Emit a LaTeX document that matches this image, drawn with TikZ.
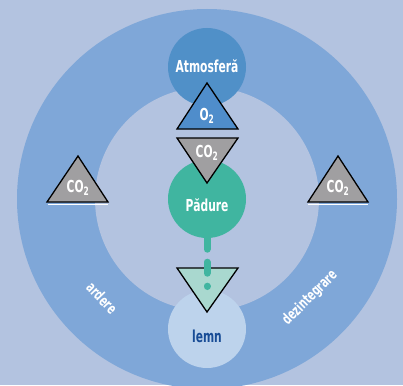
\documentclass[tikz,border=0pt]{standalone}
\usepackage{fontspec}
\newfontfamily\cyclefont[FakeStretch=0.65]{DejaVu Sans}
\definecolor{bgblue}{HTML}{B3C3E0}
\definecolor{ringblue}{HTML}{7FA7D8}
\definecolor{airblue}{HTML}{5090C8}
\definecolor{oxyblue}{HTML}{4F8DCB}
\definecolor{forest}{HTML}{40B5A0}
\definecolor{woodblue}{HTML}{BDD3EC}
\definecolor{woodtext}{HTML}{184C96}
\definecolor{cotwo}{HTML}{A09FA1}
\definecolor{mint}{HTML}{A9D8CF}
\tikzset{
  lbl/.style={text=white, inner sep=0pt, font=\cyclefont\bfseries\fontsize{16.5}{16.5}\selectfont},
  ringlbl/.style={text=white, inner sep=0pt, font=\cyclefont\bfseries\fontsize{15}{15}\selectfont},
  tri/.style={draw=black, line width=1.3pt},
  blob/.style={circle, minimum size=78pt, inner sep=0pt},
}

\begin{document}
\begin{tikzpicture}[x=1pt,y=-1pt]
\useasboundingbox (0,0) rectangle (403,385);
\clip (0,0) rectangle (403,385);
% background and carbon ring
\fill[bgblue] (0,0) rectangle (403,385);
\fill[ringblue] (207,199) circle (190);
\fill[bgblue] (207,199) circle (112);

% stores
\node[blob, fill=airblue] (atmo) at (207,67) {};
\node[blob, fill=forest] (forest) at (207,199) {};
\node[blob, fill=woodblue] (wood) at (207,329) {};
\node[lbl] (atmolbl) at (207,66) {Atmosferă};
\node[lbl] (forestlbl) at (207,205) {Pădure};
\node[lbl, text=woodtext] (woodlbl) at (207,336) {lemn};

% gas triangles
\draw[tri, fill=oxyblue] (207,83) -- (238,129) -- (177,129) -- cycle;
\draw[tri, fill=cotwo] (177,138) -- (238,138) -- (207,183) -- cycle;
\draw[white, line width=1pt] (48,204.5) -- (108,204.5);
\draw[white, line width=1pt] (308,204.5) -- (368,204.5);
\draw[tri, fill=cotwo] (78,156) -- (108,202) -- (47,202) -- cycle;
\draw[tri, fill=cotwo] (338,156) -- (368,202) -- (308,202) -- cycle;
\draw[tri, fill=mint] (177,268) -- (238,268) -- (207,312) -- cycle;

\node[lbl] (otwo) at (207,116) {O\textsubscript{2}};
\node[lbl] (cotop) at (207,153) {CO\textsubscript{2}};
\node[lbl] (coleft) at (78,188) {CO\textsubscript{2}};
\node[lbl] (coright) at (338,188) {CO\textsubscript{2}};

% processes on the ring
\node[ringlbl, rotate=-46] (burn) at (102,298) {ardere};
\node[ringlbl, rotate=45] (decay) at (310,298) {dezintegrare};

% forest to wood
\coordinate (cut) at (207,286.5);
\draw[forest, line width=7pt, line cap=round, dash pattern=on 11pt off 13pt] (forest.south) -- (cut);
\end{tikzpicture}
\end{document}
